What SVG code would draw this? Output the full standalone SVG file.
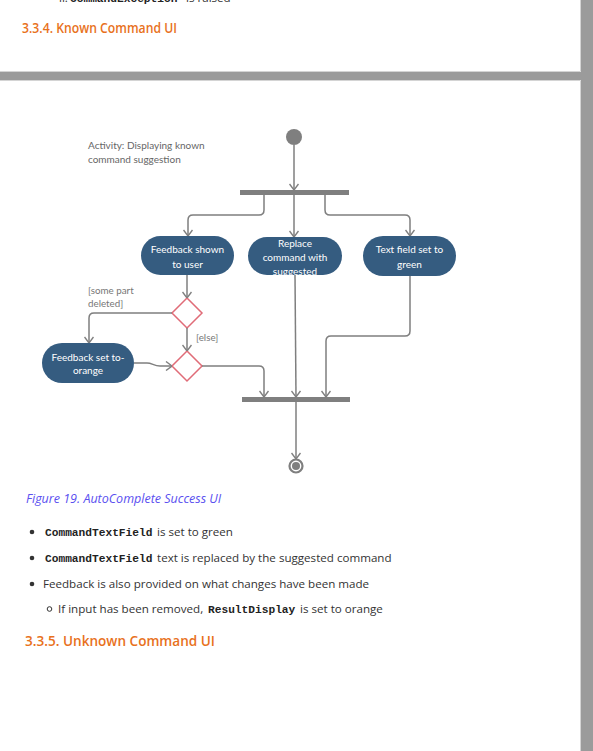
<svg xmlns="http://www.w3.org/2000/svg" width="593" height="751" viewBox="0 0 593 751">
  <style>
    .page { fill: #ffffff; }
    .frame { fill: #9b9b9b; }
    .edge { stroke: #d4d4d4; stroke-width: 1; fill: none; }
    .h3 { font-family: "Open Sans", "Liberation Sans", sans-serif; fill: #e8711c; font-weight: 600; }
    .body { font-family: "Open Sans", "Liberation Sans", sans-serif; font-size: 11.6px; fill: #333333; }
    .mono { font-family: "Liberation Mono", "DejaVu Sans Mono", monospace; font-size: 11.2px; font-weight: bold; fill: #222222; }
    .caption { font-family: "Open Sans", "Liberation Sans", sans-serif; font-size: 12.5px; font-style: italic; fill: #5a4ff0; }
    .note { font-family: Lato, "Liberation Sans", sans-serif; font-size: 10px; fill: #666666; }
    .guard { font-family: Lato, "Liberation Sans", sans-serif; font-size: 9.8px; fill: #777777; }
    .action rect { fill: #355c80; }
    .action text { font-family: Lato, "Liberation Sans", sans-serif; font-size: 10px; fill: #ffffff; text-anchor: middle; }
    .decision polygon { fill: #ffffff; stroke: #e06c78; stroke-width: 1.5; }
    .bar { fill: #7f7f7f; }
    .flow path { fill: none; stroke: #7f7f7f; stroke-width: 1.5; marker-end: url(#arrow); }
  </style>
  <defs>
    <marker id="arrow" viewBox="0 0 10 10" refX="10" refY="5" markerWidth="10" markerHeight="10" markerUnits="userSpaceOnUse" orient="auto">
      <path d="M4,0.5 L10,5 L4,9.5" fill="none" stroke="#7f7f7f" stroke-width="1.4"/>
    </marker>
  </defs>

  <!-- page background and viewer frame -->
  <rect class="page" x="0" y="0" width="593" height="751"/>
  <rect class="frame" x="0" y="72" width="581" height="8"/>
  <rect class="frame" x="581" y="0" width="12" height="751"/>
  <path class="edge" d="M0,71.5 H580.5 V0"/>
  <path class="edge" d="M0,80.5 H580.5 V751"/>

  <!-- previous section tail (cut at the top edge) -->
  <text x="59" y="2" class="body" font-size="11">ii.</text>
  <text x="70" y="2" class="mono">CommandException</text>
  <text x="186" y="2" class="body" font-size="11">is raised</text>

  <text x="22" y="33" class="h3" font-size="14" textLength="155" lengthAdjust="spacingAndGlyphs">3.3.4. Known Command UI</text>

  <!-- activity diagram -->
  <g id="title">
    <text x="88" y="148.5" class="note">Activity: Displaying known</text>
    <text x="88" y="162.5" class="note">command suggestion</text>
  </g>

  <g id="start">
    <circle cx="294" cy="137" r="8" fill="#7f7f7f"/>
  </g>

  <g id="fork">
    <rect class="bar" x="240" y="190" width="109" height="5"/>
  </g>

  <g id="join">
    <rect class="bar" x="242" y="397" width="108" height="5"/>
  </g>

  <g id="feedback-shown" class="action">
    <rect x="141" y="236" width="93" height="39" rx="19.5"/>
    <text x="187.5" y="253">Feedback shown</text>
    <text x="187.5" y="268">to user</text>
  </g>

  <g id="replace-command" class="action">
    <rect x="248" y="237" width="94" height="38" rx="19"/>
    <text x="295" y="246.5">Replace</text>
    <text x="295" y="260.5">command with</text>
    <text x="295" y="274.5">suggested</text>
  </g>

  <g id="text-field-green" class="action">
    <rect x="363" y="236" width="93" height="40" rx="20"/>
    <text x="409.5" y="253">Text field set to</text>
    <text x="409.5" y="268">green</text>
  </g>

  <g id="feedback-orange" class="action">
    <rect x="42" y="343" width="92" height="40" rx="20"/>
    <text x="88" y="360.5">Feedback set to-</text>
    <text x="88" y="374">orange</text>
  </g>

  <g id="decision-deleted" class="decision">
    <polygon points="187,298 202,313 187,328 172,313"/>
  </g>

  <g id="merge" class="decision">
    <polygon points="187,351 202,366 187,381 172,366"/>
  </g>

  <g id="end">
    <circle cx="296" cy="466" r="6.5" fill="none" stroke="#7f7f7f" stroke-width="2.2"/>
    <circle cx="296" cy="466" r="4" fill="#7f7f7f"/>
  </g>

  <g id="guards">
    <text x="88" y="294" class="guard">[some part</text>
    <text x="88" y="307" class="guard">deleted]</text>
    <text x="196" y="341" class="guard">[else]</text>
  </g>

  <g id="connectors" class="flow">
    <path d="M294,145 L294,190"/>
    <path d="M264,195 L264,210 Q264,215 259,215 L193,215 Q188,215 188,220 L188,236"/>
    <path d="M294,195 L294,237"/>
    <path d="M325,195 L325,210 Q325,215 330,215 L405,215 Q410,215 410,220 L410,236"/>
    <path d="M187,275 L187,298"/>
    <path d="M172,313 L94,313 Q89,313 89,318 L89,343"/>
    <path d="M187,328 L187,351"/>
    <path d="M134,363 L147,363 C152,363 154,366 160,366 L172,366"/>
    <path d="M202,366 L259,366 Q264,366 264,371 L264,397"/>
    <path d="M295,275 L296,397"/>
    <path d="M410,276 L410,331 Q410,336 405,336 L331,336 Q326,336 326,341 L326,397"/>
    <path d="M296,402 L296,459"/>
  </g>

  <!-- caption and notes -->
  <text x="26" y="503" class="caption">Figure 19. AutoComplete Success UI</text>

  <circle cx="32" cy="532" r="2.3" fill="#333333"/>
  <text x="45" y="535.5" class="mono">CommandTextField</text>
  <text x="157" y="535.5" class="body">is set to green</text>

  <circle cx="32" cy="558" r="2.3" fill="#333333"/>
  <text x="45" y="561.5" class="mono">CommandTextField</text>
  <text x="157" y="561.5" class="body">text is replaced by the suggested command</text>

  <circle cx="32" cy="584" r="2.3" fill="#333333"/>
  <text x="43" y="588" class="body">Feedback is also provided on what changes have been made</text>

  <circle cx="49.5" cy="609" r="2.3" fill="none" stroke="#333333" stroke-width="1"/>
  <text x="58" y="613" class="body">If input has been removed,</text>
  <text x="208" y="613" class="mono">ResultDisplay</text>
  <text x="300" y="613" class="body">is set to orange</text>

  <text x="25" y="646" class="h3" font-size="14.5" textLength="190" lengthAdjust="spacingAndGlyphs">3.3.5. Unknown Command UI</text>
</svg>
